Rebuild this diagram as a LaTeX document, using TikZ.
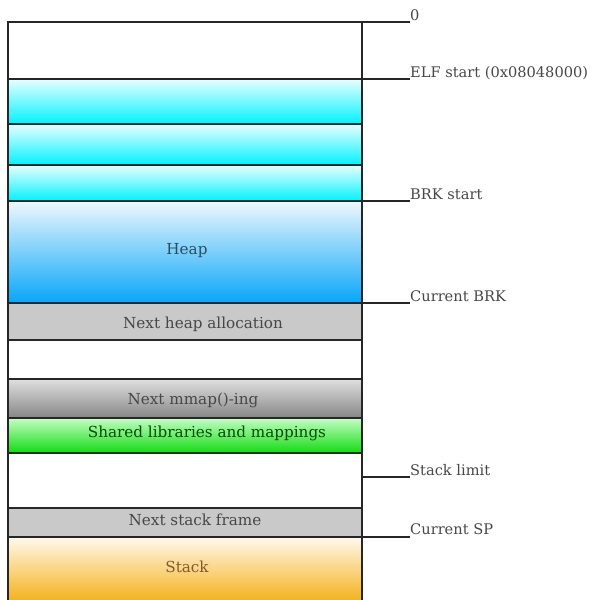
\documentclass[tikz,border=0pt]{standalone}
\usepackage{fontspec}
\setmainfont{DejaVu Serif}
\begin{document}
\begin{tikzpicture}[x=1pt,y=-1pt,
  band/.style={anchor=north west,minimum width=354pt,inner sep=0pt,outer sep=0pt,
    draw=black!85,line width=1.1pt},
  flatgray/.style={band,fill=gray!42},
  cyanband/.style={band,top color=cyan!10,middle color=cyan!75,bottom color=cyan!95!blue},
  txt/.style={font=\fontsize{15.2}{17}\selectfont,text=black!72,inner sep=0pt},
  tag/.style={font=\fontsize{14.6}{16}\selectfont,text=black!72,anchor=base west,inner sep=0pt},
  tick/.style={draw=black!85,line width=1.1pt}]
\definecolor{heapTop}{HTML}{EEF8FD}
\definecolor{heapMid}{HTML}{74C6F6}
\definecolor{heapBot}{HTML}{06A6F8}
\definecolor{heapInk}{HTML}{2B4C63}
\definecolor{grnTop}{HTML}{C4FFC4}
\definecolor{grnMid}{HTML}{48F048}
\definecolor{grnBot}{HTML}{10DC10}
\definecolor{stkTop}{HTML}{FFF9EC}
\definecolor{stkMid}{HTML}{F9D47A}
\definecolor{stkBot}{HTML}{F5B31E}
\useasboundingbox (0,0) rectangle (595,600);
\fill[white] (0,0) rectangle (595,600);

% memory bands, top to bottom
\node[band,fill=white,minimum height=57pt] (null) at (8,22) {};
\node[cyanband,minimum height=45pt] (seg1) at (8,79) {};
\node[cyanband,minimum height=41pt] (seg2) at (8,124) {};
\node[cyanband,minimum height=36pt] (seg3) at (8,165) {};
\node[band,top color=heapTop,middle color=heapMid,bottom color=heapBot,minimum height=102pt] (heap) at (8,201) {};
\node[flatgray,minimum height=37pt] (nextheap) at (8,303) {};
\node[band,fill=white,minimum height=39pt] (gap1) at (8,340) {};
\node[band,top color=gray!25,middle color=gray!50,bottom color=gray!95,minimum height=39pt] (mmap) at (8,379) {};
\node[band,top color=grnTop,middle color=grnMid,bottom color=grnBot,minimum height=35pt] (shlib) at (8,418) {};
\node[band,fill=white,minimum height=55pt] (gap2) at (8,453) {};
\node[flatgray,minimum height=29pt] (nextframe) at (8,508) {};
\node[anchor=north west,minimum width=354pt,minimum height=63pt,inner sep=0pt,outer sep=0pt,
  top color=stkTop,middle color=stkMid,bottom color=stkBot] (stack) at (8,537) {};
\draw[tick] (stack.north west) -- (stack.south west);
\draw[tick] (stack.north east) -- (stack.south east);
\draw[tick] (stack.north west) -- (stack.north east);

% band captions
\node[txt,text=heapInk] (heaptxt) at (187,251) {Heap};
\node[txt] (nexttxt) at (203,324) {Next heap allocation};
\node[txt] (mmaptxt) at (193,400) {Next mmap()-ing};
\node[txt,text=green!30!black] (shtxt) at (207,433) {Shared libraries and mappings};
\node[txt] (frametxt) at (195,520) {Next stack frame};
\node[txt,text=brown!70!black] (stacktxt) at (187,567) {Stack};

% address markers on the right
\coordinate (t0) at (410,22);
\coordinate (t1) at (410,79);
\coordinate (t2) at (410,201);
\coordinate (t3) at (410,303);
\coordinate (t4) at (410,477);
\coordinate (t5) at (410,537);
\coordinate (r4) at (362,477);
\draw[tick] (null.north east) -- (t0);
\draw[tick] (seg1.north east) -- (t1);
\draw[tick] (heap.north east) -- (t2);
\draw[tick] (nextheap.north east) -- (t3);
\draw[tick] (r4) -- (t4);
\draw[tick] (stack.north east) -- (t5);
\node[tag] (l0) at (410,20) {0};
\node[tag] (l1) at (410,77) {ELF start (0x08048000)};
\node[tag] (l2) at (410,199) {BRK start};
\node[tag] (l3) at (410,301) {Current BRK};
\node[tag] (l4) at (410,475) {Stack limit};
\node[tag] (l5) at (410,534) {Current SP};
\end{tikzpicture}
\end{document}
